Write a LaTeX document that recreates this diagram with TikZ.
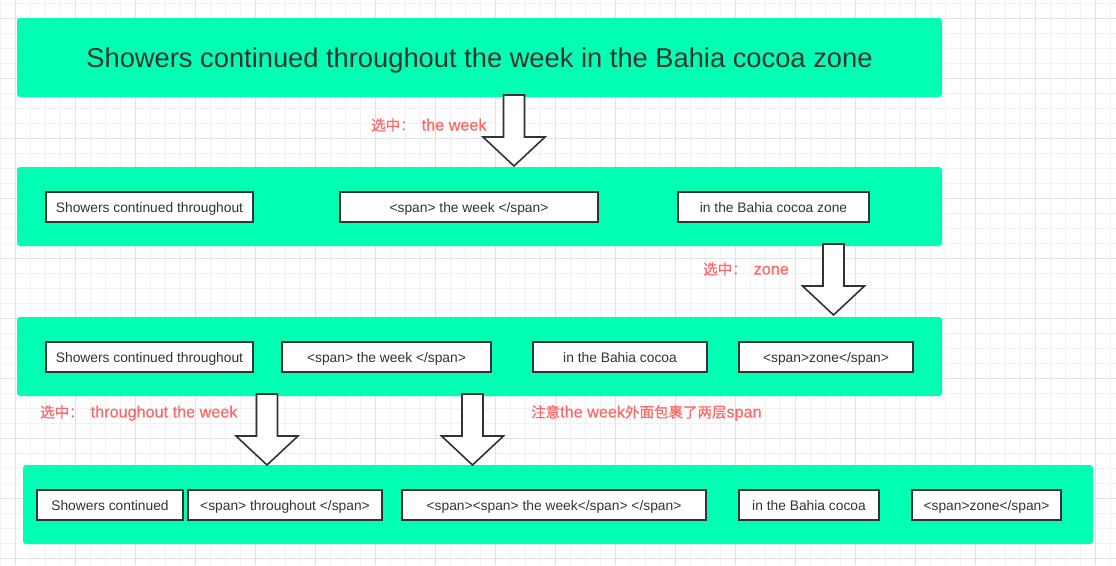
\documentclass[tikz,border=0pt]{standalone}
\usepackage{fontspec}
\setmainfont{Liberation Sans}
\newfontfamily\cjk[FakeBold=0.6]{Noto Sans CJK SC}
\newfontfamily\notelatin[FakeBold=0.6]{Liberation Sans}
\usetikzlibrary{positioning}
\definecolor{mint}{RGB}{0,255,179}
\definecolor{ink}{RGB}{51,51,51}
\definecolor{notered}{RGB}{255,102,102}
\definecolor{gridminor}{RGB}{241,241,241}
\definecolor{gridmajor}{RGB}{226,226,226}
\newcommand{\zh}[1]{{\cjk\fontsize{14.5}{16}\selectfont #1}}

\begin{document}
\begin{tikzpicture}[x=1pt, y=-1pt,
    band/.style={rectangle, fill=mint, rounded corners=3pt, minimum height=79pt, inner sep=0pt},
    word/.style={rectangle, draw=ink, line width=1.6pt, fill=white, minimum height=30pt, inner sep=0pt,
        text height=12pt, text depth=2pt, text=ink, font=\fontsize{13.8}{15}\selectfont},
    note/.style={anchor=west, inner sep=0pt, text=notered, font=\notelatin\fontsize{16.2}{17}\selectfont},
    downarrow/.pic={\draw[ink, line width=1.6pt, fill=white, line join=miter]
        (-10.5,0) -- (-10.5,42) -- (-31,42) -- (0,71) -- (31,42) -- (10.5,42) -- (10.5,0) -- cycle;}
]
\useasboundingbox (0,0) rectangle (1116,565);
% background grid
\foreach \gx in {0.5,15.5,...,1116} \draw[gridminor, line width=0.8pt] (\gx,0) -- (\gx,565);
\foreach \gy in {3.5,18.5,...,565} \draw[gridminor, line width=0.8pt] (0,\gy) -- (1116,\gy);
\foreach \gx in {15.5,75.5,...,1116} \draw[gridmajor, line width=0.8pt] (\gx,0) -- (\gx,565);
\foreach \gy in {18.5,78.5,...,565} \draw[gridmajor, line width=0.8pt] (0,\gy) -- (1116,\gy);

% bands
\node[band, minimum width=925pt, text=ink, text height=22pt, text depth=2.4pt,
    font=\fontsize{27.3}{30}\selectfont] (title) at (479.5,57.5)
    {Showers continued throughout the week in the Bahia cocoa zone};
\node[band, minimum width=925pt] (row2) at (479.5,206.5) {};
\node[band, minimum width=925pt] (row3) at (479.5,356.5) {};
\node[band, minimum width=1070pt] (row4) at (558,504.5) {};

% step 1
\node[word, minimum width=207pt] (a1) at (149.5,207) {Showers continued throughout};
\node[word, minimum width=258pt] (a2) at (469,207) {<span> the week </span>};
\node[word, minimum width=191pt] (a3) at (773.5,207) {in the Bahia cocoa zone};

% step 2
\node[word, minimum width=207pt] (b1) at (149.5,357) {Showers continued throughout};
\node[word, minimum width=209pt] (b2) at (386.5,357) {<span> the week </span>};
\node[word, minimum width=174pt] (b3) at (620,357) {in the Bahia cocoa};
\node[word, minimum width=174pt] (b4) at (826,357) {<span>zone</span>};

% step 3
\node[word, minimum width=146pt] (c1) at (110,505) {Showers continued};
\node[word, minimum width=194pt] (c2) at (285,505) {<span> throughout </span>};
\node[word, minimum width=304pt] (c3) at (554,505) {<span><span> the week</span> </span>};
\node[word, minimum width=140pt] (c4) at (809,505) {in the Bahia cocoa};
\node[word, minimum width=149pt] (c5) at (986.5,505) {<span>zone</span>};

% arrows and notes
\pic at (514,95) {downarrow};
\pic at (833.5,244) {downarrow};
\pic at (267,394) {downarrow};
\pic at (472.5,394) {downarrow};
\node[note] (n1) at (371,125) {\zh{选中：}\hspace{7pt}the week};
\node[note] (n2) at (703,269) {\zh{选中：}\hspace{7pt}zone};
\node[note] (n3) at (40,413) {\zh{选中：}\hspace{7pt}throughout the week};
\node[note] (n4) at (531,413) {\zh{注意}the week\zh{外面包裹了两层}span};
\end{tikzpicture}
\end{document}
